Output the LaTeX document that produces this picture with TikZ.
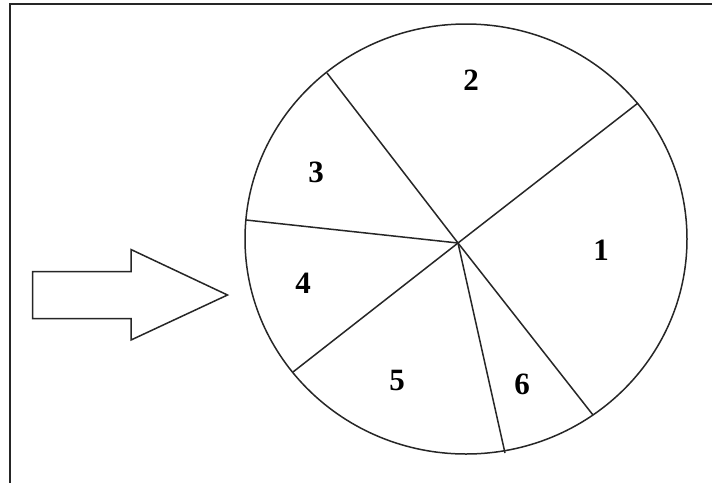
\documentclass[tikz,border=0pt]{standalone}
\usepackage{fontspec}
\setmainfont{Liberation Serif}
\begin{document}
\begin{tikzpicture}[x=1pt,y=-1pt,
  lbl/.style={font=\fontsize{31}{31}\selectfont\bfseries, inner sep=0pt},
  edge/.style={line width=1.5pt, black!85},
  frameline/.style={line width=2pt, black!85}]
\useasboundingbox (0,0) rectangle (712,483);
\fill[white] (0,0) rectangle (712,483);
% frame (top and left)
\draw[frameline] (712,3.5) -- (9.5,3.5) -- (9.5,483);
% wheel
\draw[edge] (466,239) ellipse [x radius=221, y radius=215];
\coordinate (c) at (458,243);
\coordinate (p12) at (638,103);
\coordinate (p23) at (327,73);
\coordinate (p34) at (246,220);
\coordinate (p45) at (293,372);
\coordinate (p56) at (505,453);
\coordinate (p61) at (593,415);
\foreach \p in {p12,p23,p34,p45,p56,p61} \draw[edge] (c) -- (\p);
% labels
\node[lbl] (l1) at (601,250) {1};
\node[lbl] (l2) at (471,80) {2};
\node[lbl] (l3) at (316,172) {3};
\node[lbl] (l4) at (303,283) {4};
\node[lbl] (l5) at (397,380) {5};
\node[lbl] (l6) at (522,384) {6};
% arrow
\draw[edge, line join=miter] (32.5,271.5) -- (131,271.5) -- (131,249.5) -- (227.5,295) -- (131,340) -- (131,318.5) -- (32.5,318.5) -- cycle;
\end{tikzpicture}
\end{document}
